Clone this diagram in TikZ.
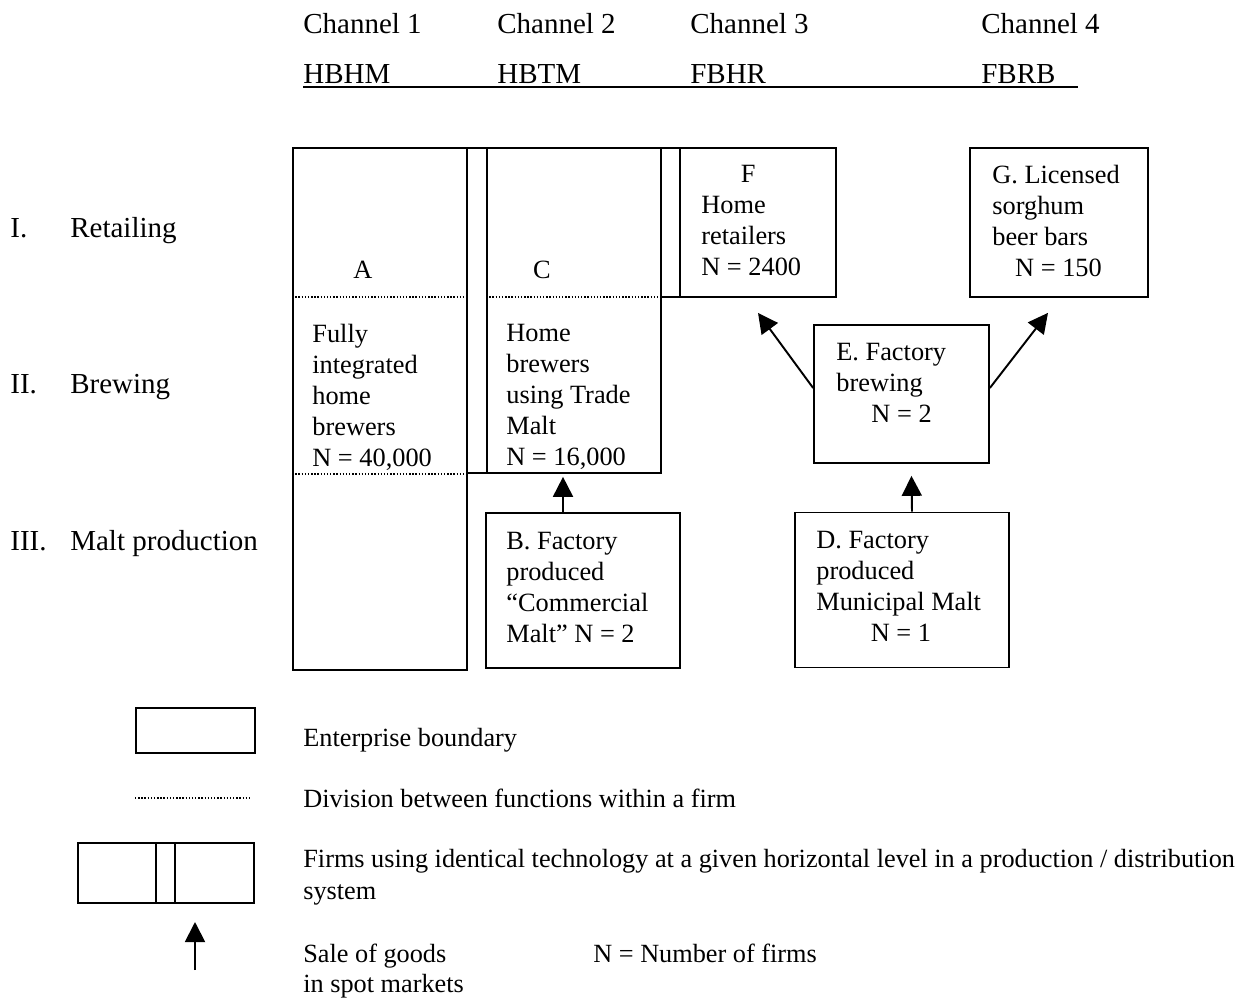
\documentclass[tikz,border=0pt]{standalone}
\usepackage{fontspec}
\setmainfont{Liberation Serif}
\usetikzlibrary{arrows.meta}

\tikzset{
  firm/.style={draw, rectangle, line width=1pt, inner sep=0pt},
  firmtext/.style={anchor=north west, align=left, inner sep=0pt,
    font=\fontsize{15}{17.6}\selectfont},
  letter/.style={anchor=base, inner sep=0pt,
    font=\fontsize{15}{17.6}\selectfont},
  headtext/.style={anchor=base west, inner sep=0pt,
    font=\fontsize{16.5}{19.8}\selectfont},
  legendtext/.style={anchor=base west, align=left, inner sep=0pt,
    font=\fontsize{14.95}{17.8}\selectfont},
  divline/.style={densely dotted, line width=0.8pt},
  arr/.style={-{Triangle[length=0.4cm,width=0.4cm]}, line width=1.1pt}
}

\begin{document}
\begin{tikzpicture}[x=0.02cm, y=-0.02cm]
\useasboundingbox (0,0) rectangle (1251,998);

% channel headings
\node [headtext] (ch1) at (303,33) {Channel 1};
\node [headtext] (ch2) at (497,33) {Channel 2};
\node [headtext] (ch3) at (690,33) {Channel 3};
\node [headtext] (ch4) at (981,33) {Channel 4};
\node [headtext] (hbhm) at (303,83) {HBHM};
\node [headtext] (hbtm) at (497,83) {HBTM};
\node [headtext] (fbhr) at (690,83) {FBHR};
\node [headtext] (fbrb) at (981,83) {FBRB};
\draw [line width=1pt] (303,87) -- (1078,87);

% levels
\node [headtext] (lev1) at (10,237) {I.};
\node [headtext] (retail) at (70,237) {Retailing};
\node [headtext] (lev2) at (10,393) {II.};
\node [headtext] (brew) at (70,393) {Brewing};
\node [headtext] (lev3) at (10,550) {III.};
\node [headtext] (malt) at (70,550) {Malt production};

% enterprises
\node [firm,
    minimum width=3.48cm,
    minimum height=10.44cm] (A) at (380,409){};

\node [firm,
    minimum width=0.4cm,
    minimum height=6.5cm] (S1) at (477,310.5){};

\node [firm,
    minimum width=3.48cm,
    minimum height=6.5cm] (C) at (574,310.5){};

\node [firm,
    minimum width=0.38cm,
    minimum height=2.98cm] (S2) at (670.5,222.5){};

\node [firm,
    minimum width=3.12cm,
    minimum height=2.98cm] (F) at (758,222.5){};

\node [firm,
    minimum width=3.56cm,
    minimum height=2.98cm] (G) at (1059,222.5){};

\node [firm,
    minimum width=3.5cm,
    minimum height=2.76cm] (E) at (901.5,394){};

\node [firm,
    minimum width=3.88cm,
    minimum height=3.1cm] (B) at (583,590.5){};

\node [firm,
    minimum width=4.28cm,
    minimum height=3.1cm] (D) at (902,590){};

% functions inside a firm
\draw [divline] (A.west |- 0,297) -- (A.east |- 0,297);
\draw [divline] (A.west |- 0,474) -- (A.east |- 0,474);
\draw [divline] (C.west |- 0,297) -- (C.east |- 0,297);

% texts
\node [letter] (Alabel) at (363,278) {A};
\node [firmtext] (Atext) at (312,324)
    {Fully\\integrated\\home\\brewers\\N = 40,000};
\node [letter] (Clabel) at (542,278) {C};
\node [firmtext] (Ctext) at (506,324)
    {Home\\brewers\\using Trade\\Malt\\N = 16,000};
\node [firmtext] (Ftext) at (701,165)
    {\hspace*{1.5em}F\\Home\\retailers\\N = 2400};
\node [firmtext] (Gtext) at (992,165)
    {G. Licensed\\sorghum\\beer bars\\\hspace*{13pt}N = 150};
\node [firmtext] (Etext) at (836,343)
    {E. Factory\\brewing\\\hspace*{20pt}N = 2};
\node [firmtext] (Btext) at (506,532)
    {B. Factory\\produced\\``Commercial\\Malt'' N = 2};
\node [firmtext] (Dtext) at (816,531)
    {D. Factory\\produced\\Municipal Malt\\\hspace*{31pt}N = 1};

% spot market sales
\draw [arr] ([xshift=-0.4cm]B.north) -- ([xshift=-0.22cm,yshift=-0.06cm]C.south);
\draw [arr] ([xshift=0.2cm]D.north) -- ([xshift=0.2cm,yshift=-0.24cm]E.south);
\draw [arr] ([yshift=0.12cm]E.west) -- ([yshift=-0.3cm]F.south);
\draw [arr] ([yshift=0.12cm]E.east) -- ([xshift=-0.22cm,yshift=-0.3cm]G.south);

% legend
\node [firm,
    minimum width=2.38cm,
    minimum height=0.9cm] (L1) at (195.5,730.5){};
\node [legendtext] (L1text) at (303,746) {Enterprise boundary};

\draw [divline] (135,798) -- (251,798);
\node [legendtext] (L2text) at (303,807) {Division between functions within a firm};

\node [firm,
    minimum width=3.52cm,
    minimum height=1.2cm] (L3) at (166,873){};
\draw [line width=1pt] (L3.north -| 156,0) -- (L3.south -| 156,0);
\draw [line width=1pt] (L3.north -| 175,0) -- (L3.south -| 175,0);
\node [legendtext] (L3text) at (303,867)
    {Firms using identical technology at a given horizontal level in a production / distribution};
\node [legendtext] (L3text2) at (303,899) {system};

\coordinate (sale0) at (195,970);
\coordinate (sale1) at (195,922);
\draw [arr] (sale0) -- (sale1);
\node [legendtext] (L4text) at (303,962) {Sale of goods};
\node [legendtext] (L4text2) at (303,992) {in spot markets};
\node [legendtext] (Nnote) at (593,962) {N = Number of firms};

\end{tikzpicture}
\end{document}
